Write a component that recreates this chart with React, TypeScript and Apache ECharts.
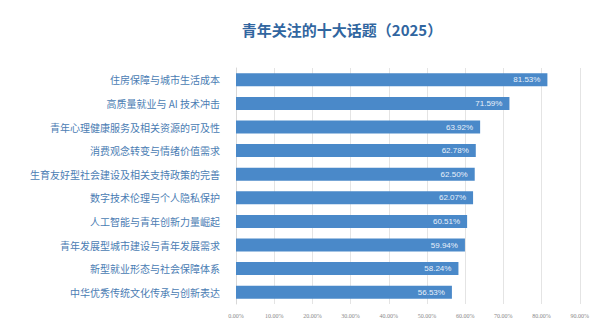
import React, { useEffect, useRef } from "react";
import * as echarts from "echarts";

const categories = [
  "住房保障与城市生活成本",
  "高质量就业与 AI 技术冲击",
  "青年心理健康服务及相关资源的可及性",
  "消费观念转变与情绪价值需求",
  "生育友好型社会建设及相关支持政策的完善",
  "数字技术伦理与个人隐私保护",
  "人工智能与青年创新力量崛起",
  "青年发展型城市建设与青年发展需求",
  "新型就业形态与社会保障体系",
  "中华优秀传统文化传承与创新表达",
];
const values = [81.53, 71.59, 63.92, 62.78, 62.5, 62.07, 60.51, 59.94, 58.24, 56.53];
const titleText = "青年关注的十大话题（2025）";

export default function App() {
  const ref = useRef<HTMLDivElement>(null);
  useEffect(() => {
    if (!ref.current) return;
    const chart = echarts.init(ref.current, null, { renderer: "svg" });
    chart.setOption({
      animation: false,
      backgroundColor: "#ffffff",
      title: {
        text: titleText,
        left: 329,
        textAlign: "center",
        top: 9,
        textStyle: {
          fontFamily: "Noto Sans CJK SC",
          fontSize: 15,
          fontWeight: "bold",
          color: "#3166a0",
        },
      },
      grid: { left: 228, right: 11, top: 60, bottom: 17 },
      xAxis: {
        type: "value",
        min: 0,
        max: 90,
        interval: 10,
        axisLine: { show: false },
        axisTick: { show: false },
        splitLine: { show: true, lineStyle: { color: "#e4e4e4", width: 1 } },
        axisLabel: {
          formatter: (v: number) => v.toFixed(2) + "%",
          fontSize: 6,
          color: "#888888",
          margin: 9,
          fontFamily: "Liberation Serif",
        },
      },
      yAxis: {
        type: "category",
        data: categories,
        inverse: true,
        axisLine: { show: true, lineStyle: { color: "#d8d8d8" } },
        axisTick: { show: false },
        axisLabel: {
          fontSize: 10,
          color: "#4a7cb3",
          margin: 16,
          fontFamily: "Noto Sans CJK SC",
        },
      },
      series: [
        {
          type: "bar",
          data: values,
          barWidth: 13,
          itemStyle: { color: "#4a89c9" },
          label: {
            show: true,
            position: "insideRight",
            offset: [-2, 0],
            formatter: (p: any) => p.value.toFixed(2) + "%",
            color: "#e8f0fa",
            fontSize: 8,
            fontFamily: "Liberation Sans",
          },
        },
      ],
    });
    return () => chart.dispose();
  }, []);
  return <div ref={ref} style={{ width: 584, height: 313 }} />;
}
